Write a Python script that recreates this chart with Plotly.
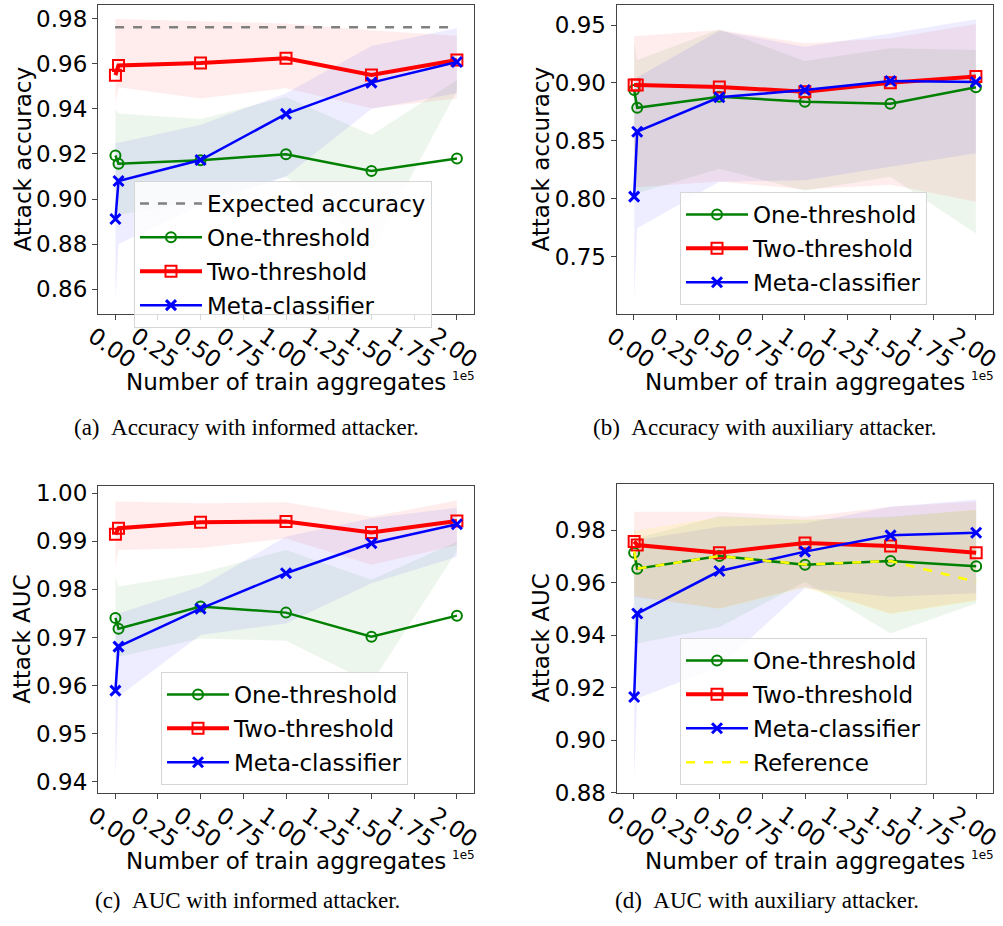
import plotly.graph_objects as go

W, H = 1003, 926

# Number of train aggregates (x positions shared by every panel)
train_aggregates = [200, 2000, 50000, 100000, 150000, 200000]
x_tick_vals = [0, 25000, 50000, 75000, 100000, 125000, 150000, 175000, 200000]
x_tick_text = ["0.00", "0.25", "0.50", "0.75", "1.00", "1.25", "1.50", "1.75", "2.00"]

# (a) accuracy, informed attacker
acc_inf_one = [0.9193, 0.9157, 0.9172, 0.9199, 0.9124, 0.9180]
acc_inf_one_hi = [0.940, 0.938, 0.9356, 0.9453, 0.9284, 0.9529]
acc_inf_one_lo = [0.897, 0.893, 0.899, 0.910, 0.877, 0.948]
acc_inf_two = [0.9550, 0.9593, 0.9604, 0.9625, 0.9551, 0.9618]
acc_inf_two_hi = [0.980, 0.980, 0.979, 0.978, 0.975, 0.9725]
acc_inf_two_lo = [0.9425, 0.9496, 0.9447, 0.9492, 0.9403, 0.9447]
acc_inf_meta = [0.8911, 0.9080, 0.9173, 0.9378, 0.9517, 0.9609]
acc_inf_meta_hi = [0.925, 0.925, 0.933, 0.947, 0.968, 0.976]
acc_inf_meta_lo = [0.855, 0.880, 0.897, 0.910, 0.940, 0.947]
expected_accuracy = 0.9763

# (b) accuracy, auxiliary attacker
acc_aux_one = [0.8939, 0.8786, 0.8881, 0.8838, 0.8821, 0.8962]
acc_aux_one_hi = [0.935, 0.9198, 0.9463, 0.9189, 0.9299, 0.9284]
acc_aux_one_lo = [0.812, 0.8047, 0.826, 0.807, 0.819, 0.770]
acc_aux_two = [0.8982, 0.8982, 0.8965, 0.8925, 0.9002, 0.9055]
acc_aux_two_hi = [0.9405, 0.9405, 0.9457, 0.9342, 0.9385, 0.951]
acc_aux_two_lo = [0.809, 0.810, 0.815, 0.808, 0.812, 0.7975]
acc_aux_meta = [0.8018, 0.8579, 0.8876, 0.8939, 0.9017, 0.9008]
acc_aux_meta_hi = [0.893, 0.905, 0.945, 0.9313, 0.9428, 0.955]
acc_aux_meta_lo = [0.7126, 0.7745, 0.8147, 0.816, 0.8277, 0.8392]

# (c) AUC, informed attacker
auc_inf_one = [0.97406, 0.97184, 0.97642, 0.97517, 0.97017, 0.97454]
auc_inf_one_hi = [0.9827, 0.9806, 0.9834, 0.9882, 0.9820, 0.9899]
auc_inf_one_lo = [0.9655, 0.9660, 0.9698, 0.9693, 0.9605, 0.9880]
auc_inf_two = [0.99147, 0.99272, 0.99397, 0.99410, 0.99182, 0.99424]
auc_inf_two_hi = [0.9983, 0.9983, 0.9979, 0.9981, 0.9951, 0.9985]
auc_inf_two_lo = [0.9847, 0.9882, 0.9886, 0.9906, 0.9851, 0.9892]
auc_inf_meta = [0.95894, 0.96809, 0.97600, 0.98335, 0.98960, 0.99355]
auc_inf_meta_hi = [0.9750, 0.9750, 0.9806, 0.9910, 0.9948, 0.9970]
auc_inf_meta_lo = [0.9403, 0.9577, 0.9705, 0.9729, 0.9813, 0.9868]

# (d) AUC, auxiliary attacker
auc_aux_one = [0.9715, 0.9654, 0.9702, 0.9669, 0.9683, 0.9663]
auc_aux_one_hi = [0.9808, 0.9770, 0.9855, 0.9840, 0.9852, 0.9878]
auc_aux_one_lo = [0.9369, 0.9369, 0.9432, 0.9604, 0.9407, 0.9521]
auc_aux_two = [0.9758, 0.9744, 0.9715, 0.9752, 0.9740, 0.9715]
auc_aux_two_hi = [0.9871, 0.9871, 0.9871, 0.9852, 0.9890, 0.9910]
auc_aux_two_lo = [0.9547, 0.9547, 0.9502, 0.9585, 0.9483, 0.9534]
auc_aux_meta = [0.9165, 0.9483, 0.9645, 0.9719, 0.9781, 0.9791]
auc_aux_meta_hi = [0.9725, 0.9763, 0.9814, 0.9827, 0.9890, 0.9918]
auc_aux_meta_lo = [0.8847, 0.9159, 0.9280, 0.9579, 0.9547, 0.9560]
auc_aux_ref = [0.9720, 0.9654, 0.9702, 0.9670, 0.9683, 0.9604]
auc_aux_ref_hi = [0.9800, 0.9800, 0.9850, 0.9840, 0.9850, 0.9880]
auc_aux_ref_lo = [0.9550, 0.9550, 0.9500, 0.9580, 0.9480, 0.9530]

FONT = "DejaVu Sans"
FS = 23
GREEN, RED, BLUE, GRAY, YELLOW = "#008000", "#ff0000", "#0000ff", "#808080", "#ffff00"

STYLE = {
    "One-threshold": dict(color=GREEN, width=2.5, symbol="circle-open", size=10, mlw=2),
    "Two-threshold": dict(color=RED, width=4, symbol="square-open", size=11, mlw=2),
    "Meta-classifier": dict(color=BLUE, width=2.5, symbol="x-thin", size=10, mlw=3),
}


def rgba(hex_color, a):
    h = hex_color.lstrip("#")
    r, g, b = int(h[0:2], 16), int(h[2:4], 16), int(h[4:6], 16)
    return f"rgba({r},{g},{b},{a})"


panels = [
    dict(ax="", legend="legend", px_x=(98, 474), px_y=(5, 314), yrange=(0.8489, 0.9862),
         yticks=[0.86, 0.88, 0.90, 0.92, 0.94, 0.96, 0.98], ytitle="Attack accuracy",
         caption="(a)\u2002Accuracy with informed attacker.", cap_x=246, cap_y=427,
         legend_xy=(134, 181), ytitle_x=22,
         series=[("One-threshold", acc_inf_one, acc_inf_one_hi, acc_inf_one_lo),
                 ("Two-threshold", acc_inf_two, acc_inf_two_hi, acc_inf_two_lo),
                 ("Meta-classifier", acc_inf_meta, acc_inf_meta_hi, acc_inf_meta_lo)]),
    dict(ax="2", legend="legend2", px_x=(616.7, 993), px_y=(5, 314), yrange=(0.7005, 0.9673),
         yticks=[0.75, 0.80, 0.85, 0.90, 0.95], ytitle="Attack accuracy",
         caption="(b)\u2002Accuracy with auxiliary attacker.", cap_x=765, cap_y=427,
         legend_xy=(680, 192), ytitle_x=540,
         series=[("One-threshold", acc_aux_one, acc_aux_one_hi, acc_aux_one_lo),
                 ("Two-threshold", acc_aux_two, acc_aux_two_hi, acc_aux_two_lo),
                 ("Meta-classifier", acc_aux_meta, acc_aux_meta_hi, acc_aux_meta_lo)]),
    dict(ax="3", legend="legend3", px_x=(98, 474), px_y=(486, 793.3), yrange=(0.9376, 1.0015),
         yticks=[0.94, 0.95, 0.96, 0.97, 0.98, 0.99, 1.00], ytitle="Attack AUC",
         caption="(c)\u2002AUC with informed attacker.", cap_x=247, cap_y=900,
         legend_xy=(161, 672), ytitle_x=22,
         series=[("One-threshold", auc_inf_one, auc_inf_one_hi, auc_inf_one_lo),
                 ("Two-threshold", auc_inf_two, auc_inf_two_hi, auc_inf_two_lo),
                 ("Meta-classifier", auc_inf_meta, auc_inf_meta_hi, auc_inf_meta_lo)]),
    dict(ax="4", legend="legend4", px_x=(616.7, 993.3), px_y=(484.3, 792.7), yrange=(0.88, 0.99756),
         yticks=[0.88, 0.90, 0.92, 0.94, 0.96, 0.98], ytitle="Attack AUC",
         caption="(d)\u2002AUC with auxiliary attacker.", cap_x=767, cap_y=900,
         legend_xy=(680, 638), ytitle_x=540,
         series=[("One-threshold", auc_aux_one, auc_aux_one_hi, auc_aux_one_lo),
                 ("Two-threshold", auc_aux_two, auc_aux_two_hi, auc_aux_two_lo),
                 ("Meta-classifier", auc_aux_meta, auc_aux_meta_hi, auc_aux_meta_lo)]),
]

fig = go.Figure()
annotations = []
layout = {}

for p in panels:
    xa, ya = "x" + p["ax"], "y" + p["ax"]
    band_list = [(s[0], STYLE[s[0]]["color"], s[2], s[3]) for s in p["series"]]
    if p["ax"] == "4":
        band_list.append(("Reference", YELLOW, auc_aux_ref_hi, auc_aux_ref_lo))
    # shaded spread bands underneath the lines
    for name, color, hi, lo in band_list:
        fig.add_trace(go.Scatter(
            x=train_aggregates + train_aggregates[::-1], y=hi + lo[::-1],
            fill="toself", fillcolor=rgba(color, 0.07 if color != YELLOW else 0.1),
            line=dict(width=0), mode="lines", hoverinfo="skip", showlegend=False,
            xaxis=xa, yaxis=ya))
    if p["ax"] == "":
        fig.add_trace(go.Scatter(
            x=[0, 200000], y=[expected_accuracy, expected_accuracy], mode="lines",
            name="Expected accuracy", line=dict(color=GRAY, width=2.5, dash="dash"),
            xaxis=xa, yaxis=ya, legend=p["legend"], legendgroup=p["legend"] + "exp"))
    for name, vals, hi, lo in p["series"]:
        st = STYLE[name]
        fig.add_trace(go.Scatter(
            x=train_aggregates, y=vals, mode="lines+markers", name=name,
            line=dict(color=st["color"], width=st["width"]),
            marker=dict(symbol=st["symbol"], size=st["size"], color=st["color"],
                        line=dict(color=st["color"], width=st["mlw"])),
            xaxis=xa, yaxis=ya, legend=p["legend"], legendgroup=p["legend"] + name))
    if p["ax"] == "4":
        fig.add_trace(go.Scatter(
            x=train_aggregates, y=auc_aux_ref, mode="lines", name="Reference",
            line=dict(color=YELLOW, width=2.5, dash="dash"),
            xaxis=xa, yaxis=ya, legend=p["legend"], legendgroup=p["legend"] + "ref"))

    x0, x1 = p["px_x"]
    y0, y1 = p["px_y"]
    axis_common = dict(showline=True, mirror=True, linecolor="#444", linewidth=1.2,
                       ticks="outside", ticklen=5, tickcolor="#444", showgrid=False,
                       zeroline=False, automargin=False,
                       tickfont=dict(family=FONT, size=FS, color="black"))
    layout["xaxis" + p["ax"]] = dict(
        domain=[x0 / W, x1 / W], anchor=ya, range=[-10000, 210000],
        tickmode="array", tickvals=x_tick_vals, ticktext=x_tick_text, tickangle=35,
        ticklabelshift=-22, ticklabelstandoff=-6, **axis_common)
    layout["yaxis" + p["ax"]] = dict(
        domain=[1 - y1 / H, 1 - y0 / H], anchor=xa, range=list(p["yrange"]),
        tickmode="array", tickvals=p["yticks"], tickformat=".2f", **axis_common)

    lx, ly = p["legend_xy"]
    layout[p["legend"]] = dict(
        x=lx / W, y=1 - ly / H, xanchor="left", yanchor="top",
        font=dict(family=FONT, size=FS, color="black"),
        bgcolor="rgba(255,255,255,0.8)", bordercolor="#d6d6d6", borderwidth=1,
        tracegroupgap=1, itemwidth=62)

    cx = (x0 + x1) / 2
    # y axis title
    annotations.append(dict(
        text=p["ytitle"], textangle=-90, x=p["ytitle_x"] / W, y=1 - (y0 + y1) / 2 / H,
        xref="paper", yref="paper", showarrow=False, xanchor="center", yanchor="middle",
        font=dict(family=FONT, size=FS, color="black")))
    # x axis title
    annotations.append(dict(
        text="Number of train aggregates", x=cx / W, y=1 - (y1 + 68) / H,
        xref="paper", yref="paper", showarrow=False, xanchor="center", yanchor="middle",
        font=dict(family=FONT, size=FS, color="black")))
    # scale offset
    annotations.append(dict(
        text="1e5", x=(x1 - 11) / W, y=1 - (y1 + 62) / H,
        xref="paper", yref="paper", showarrow=False, xanchor="center", yanchor="middle",
        font=dict(family=FONT, size=12, color="black")))
    # panel caption
    annotations.append(dict(
        text=p["caption"], x=p["cap_x"] / W, y=1 - p["cap_y"] / H,
        xref="paper", yref="paper", showarrow=False, xanchor="center", yanchor="middle",
        font=dict(family="Liberation Serif", size=23, color="black")))

fig.update_layout(
    width=W, height=H, margin=dict(l=0, r=0, t=0, b=0),
    paper_bgcolor="white", plot_bgcolor="white",
    annotations=annotations, **layout)

fig.write_html("out.html")
